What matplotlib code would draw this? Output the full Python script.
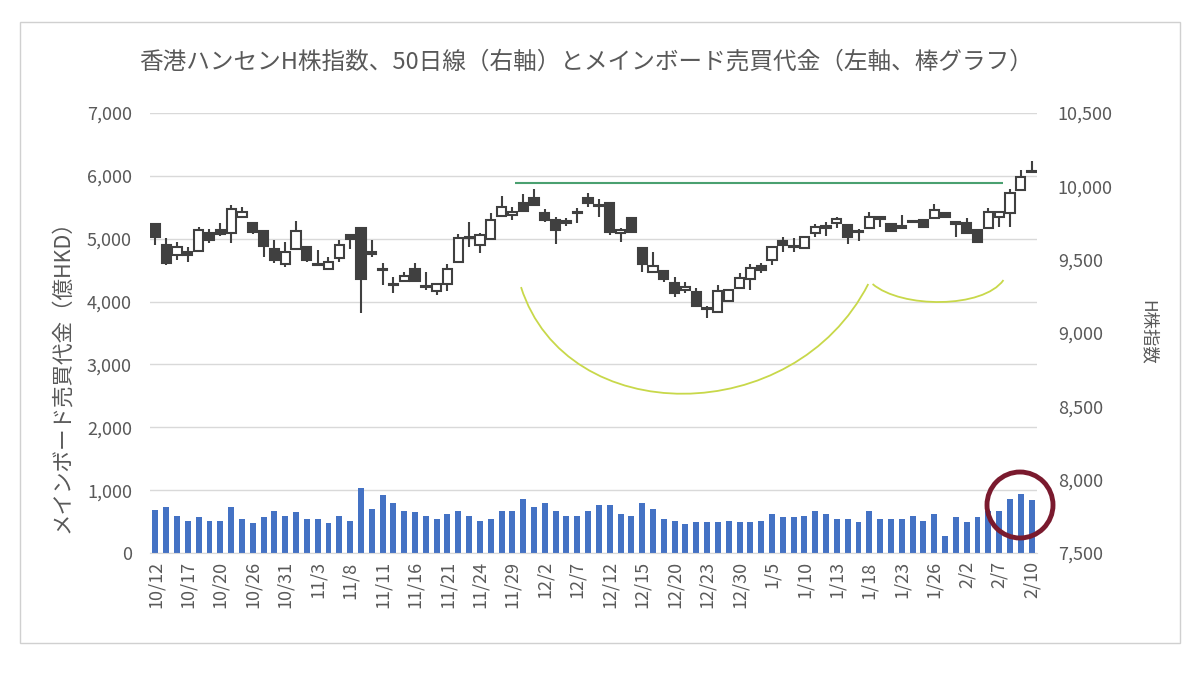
import matplotlib
matplotlib.use("Agg")
import matplotlib.pyplot as plt
import numpy as np
from matplotlib.path import Path
from matplotlib.patches import PathPatch, Ellipse, Rectangle

plt.rcParams["font.family"] = ["Noto Sans CJK JP", "DejaVu Sans"]

TITLE = "香港ハンセンH株指数、50日線（右軸）とメインボード売買代金（左軸、棒グラフ）"
LEFT_LABEL = "メインボード売買代金（億HKD）"
RIGHT_LABEL = "H株指数"

TICK_LABELS = ["10/12", "10/17", "10/20", "10/26", "10/31", "11/3", "11/8", "11/11",
               "11/16", "11/21", "11/24", "11/29", "12/2", "12/7", "12/12", "12/15",
               "12/20", "12/23", "12/30", "1/5", "1/10", "1/13", "1/18", "1/23",
               "1/26", "2/2", "2/7", "2/10"]

# turnover, 100m HKD (left axis)
TURNOVER = [680, 730, 590, 510, 565, 510, 510, 726, 538, 484,
            565, 672, 590, 645, 538, 538, 484, 590, 510, 1032,
            700, 925, 790, 672, 645, 590, 538, 618, 672, 590,
            510, 538, 672, 672, 860, 726, 790, 672, 590, 590, 672,
            757, 757, 622, 595, 790, 703, 540, 514, 460, 486,
            486, 486, 514, 486, 486, 514, 622, 568, 568, 595,
            676, 622, 540, 540, 486, 676, 540, 540, 540, 595,
            514, 622, 270, 568, 486, 568, 676, 676, 865, 946, 838]

# H-share index candles (right axis)
OPEN = [9741, 9600, 9532, 9554, 9561, 9680, 9702, 9680, 9793, 9752,
        9698, 9573, 9470, 9573, 9588, 9468, 9436, 9509, 9668, 9714,
        9550, 9434, 9330, 9355, 9434, 9318, 9289, 9334, 9482, 9652,
        9600, 9641, 9798, 9805, 9884, 9918, 9820, 9770, 9757, 9822,
        9923, 9868, 9889, 9680, 9782, 9577, 9418, 9425, 9339, 9293,
        9282, 9170, 9145, 9215, 9310, 9366, 9457, 9495, 9630, 9592,
        9577, 9682, 9723, 9748, 9736, 9693, 9714, 9784, 9743, 9723,
        9761, 9770, 9782, 9820, 9750, 9752, 9702, 9714, 9793, 9816,
        9975, 10102]
HIGH = [9741, 9646, 9623, 9588, 9725, 9707, 9748, 9873, 9857, 9752,
        9698, 9634, 9623, 9764, 9588, 9566, 9520, 9634, 9668, 9714,
        9634, 9475, 9384, 9418, 9479, 9418, 9332, 9468, 9673, 9759,
        9684, 9820, 9936, 9861, 9946, 9980, 9843, 9793, 9782, 9850,
        9952, 9912, 9889, 9714, 9782, 9577, 9554, 9425, 9380, 9350,
        9305, 9184, 9327, 9293, 9407, 9470, 9475, 9588, 9653, 9650,
        9653, 9741, 9755, 9793, 9736, 9707, 9827, 9784, 9743, 9805,
        9770, 9770, 9880, 9820, 9750, 9782, 9702, 9850, 9827, 9980,
        10111, 10175]
LOW = [9600, 9463, 9498, 9487, 9554, 9611, 9661, 9616, 9793, 9675,
       9520, 9475, 9448, 9573, 9487, 9457, 9436, 9487, 9571, 9134,
       9520, 9327, 9271, 9355, 9357, 9293, 9259, 9289, 9482, 9588,
       9548, 9641, 9798, 9770, 9834, 9873, 9759, 9607, 9730, 9748,
       9861, 9793, 9668, 9623, 9680, 9418, 9418, 9350, 9248, 9271,
       9184, 9100, 9145, 9215, 9305, 9293, 9407, 9464, 9554, 9554,
       9577, 9657, 9661, 9714, 9607, 9630, 9714, 9721, 9698, 9714,
       9748, 9725, 9782, 9793, 9657, 9680, 9611, 9714, 9725, 9725,
       9975, 10100]
CLOSE = [9657, 9479, 9584, 9532, 9702, 9634, 9675, 9843, 9827, 9691,
         9595, 9498, 9554, 9695, 9498, 9462, 9487, 9600, 9639, 9366,
         9538, 9428, 9325, 9389, 9357, 9314, 9332, 9434, 9646, 9648,
         9668, 9770, 9861, 9827, 9834, 9873, 9770, 9702, 9753, 9818,
         9884, 9864, 9691, 9702, 9687, 9470, 9457, 9366, 9271, 9316,
         9184, 9164, 9289, 9295, 9373, 9445, 9428, 9588, 9600, 9588,
         9653, 9723, 9719, 9775, 9653, 9689, 9793, 9780, 9698, 9719,
         9757, 9725, 9839, 9793, 9746, 9680, 9623, 9827, 9827, 9952,
         10066, 10098]

# hand-drawn annotations (data coordinates of the right axis)
RESIST_LEVEL = 10020
RESIST_SPAN = (33.2, 78.4)
ARC_1 = [(33.8, 9313), (38.0, 8340), (59.0, 8340), (65.9, 9334)]
ARC_2 = [(66.3, 9334), (69.0, 9166), (76.5, 9166), (78.4, 9361)]

GRAY = "#595959"
GRID = "#d9d9d9"
TICK_FS = 13

fig = plt.figure(figsize=(12, 6.83), dpi=100)
fig.patches.append(Rectangle((20 / 1200, 1 - 643 / 683), 1160 / 1200, 621 / 683,
                             transform=fig.transFigure, fill=False,
                             edgecolor="#d0d0d0", lw=1))

ax = fig.add_axes([150 / 1200, 130 / 683, 887 / 1200, 440 / 683])
x = np.arange(len(TURNOVER))
ax.bar(x, TURNOVER, width=0.55, color="#4472c4", zorder=2)
ax.set_ylim(0, 7000)
ax.set_xlim(-0.5, len(TURNOVER) - 0.5)
ax.set_yticks(range(0, 7001, 1000))
ax.set_yticklabels([f"{v:,}" for v in range(0, 7001, 1000)])
ax.yaxis.grid(True, color=GRID, lw=1, zorder=0)
ax.set_axisbelow(True)
ax.set_xticks(x[::3])
ax.set_xticklabels(TICK_LABELS, rotation=90)
ax.tick_params(axis="both", length=0, colors=GRAY, labelsize=TICK_FS)
ax.tick_params(axis="y", pad=13)
ax.tick_params(axis="x", pad=6)
for s in ["top", "left", "right"]:
    ax.spines[s].set_visible(False)
ax.spines["bottom"].set_color(GRID)

ax2 = ax.twinx()
o = np.array(OPEN)
c = np.array(CLOSE)
h = np.array(HIGH)
l = np.array(LOW)
up = c >= o
ax2.vlines(x, l, h, color="#404040", lw=1.5, zorder=3)
body_lo = np.minimum(o, c)
body_h = np.maximum(np.abs(c - o), 8)
ax2.bar(x[up], body_h[up], bottom=body_lo[up], width=0.85,
        color="white", edgecolor="#404040", lw=1.5, zorder=4)
ax2.bar(x[~up], body_h[~up], bottom=body_lo[~up], width=0.85,
        color="#404040", edgecolor="#404040", lw=1.5, zorder=4)
ax2.set_ylim(7500, 10500)
ax2.set_yticks(range(7500, 10501, 500))
ax2.set_yticklabels([f"{v:,}" for v in range(7500, 10501, 500)])
ax2.tick_params(axis="y", length=0, colors=GRAY, labelsize=TICK_FS, pad=15)
for s in ax2.spines.values():
    s.set_visible(False)

ax2.hlines(RESIST_LEVEL, *RESIST_SPAN, color="#4aa070", lw=1.5, zorder=5)
codes = [Path.MOVETO, Path.CURVE4, Path.CURVE4, Path.CURVE4]
for arc in (ARC_1, ARC_2):
    ax2.add_patch(PathPatch(Path(arc, codes), fill=False, edgecolor="#c8d84a",
                            lw=1.3, zorder=5))

fig.patches.append(Ellipse((1020 / 1200, 1 - 505 / 683), 66 / 1200, 66 / 683,
                           transform=fig.transFigure, fill=False,
                           edgecolor="#7a1a2e", lw=3.5, zorder=10))

fig.text(586 / 1200, 1 - 62 / 683, TITLE, ha="center", va="center",
         fontsize=17, color=GRAY)
fig.text(62 / 1200, 1 - 371 / 683, LEFT_LABEL, ha="center", va="center",
         rotation=90, fontsize=15.5, color=GRAY)
fig.text(1148 / 1200, 1 - 332 / 683, RIGHT_LABEL, ha="center", va="center",
         rotation=-90, fontsize=12.5, color=GRAY)

fig.savefig("out.png", dpi=100)
